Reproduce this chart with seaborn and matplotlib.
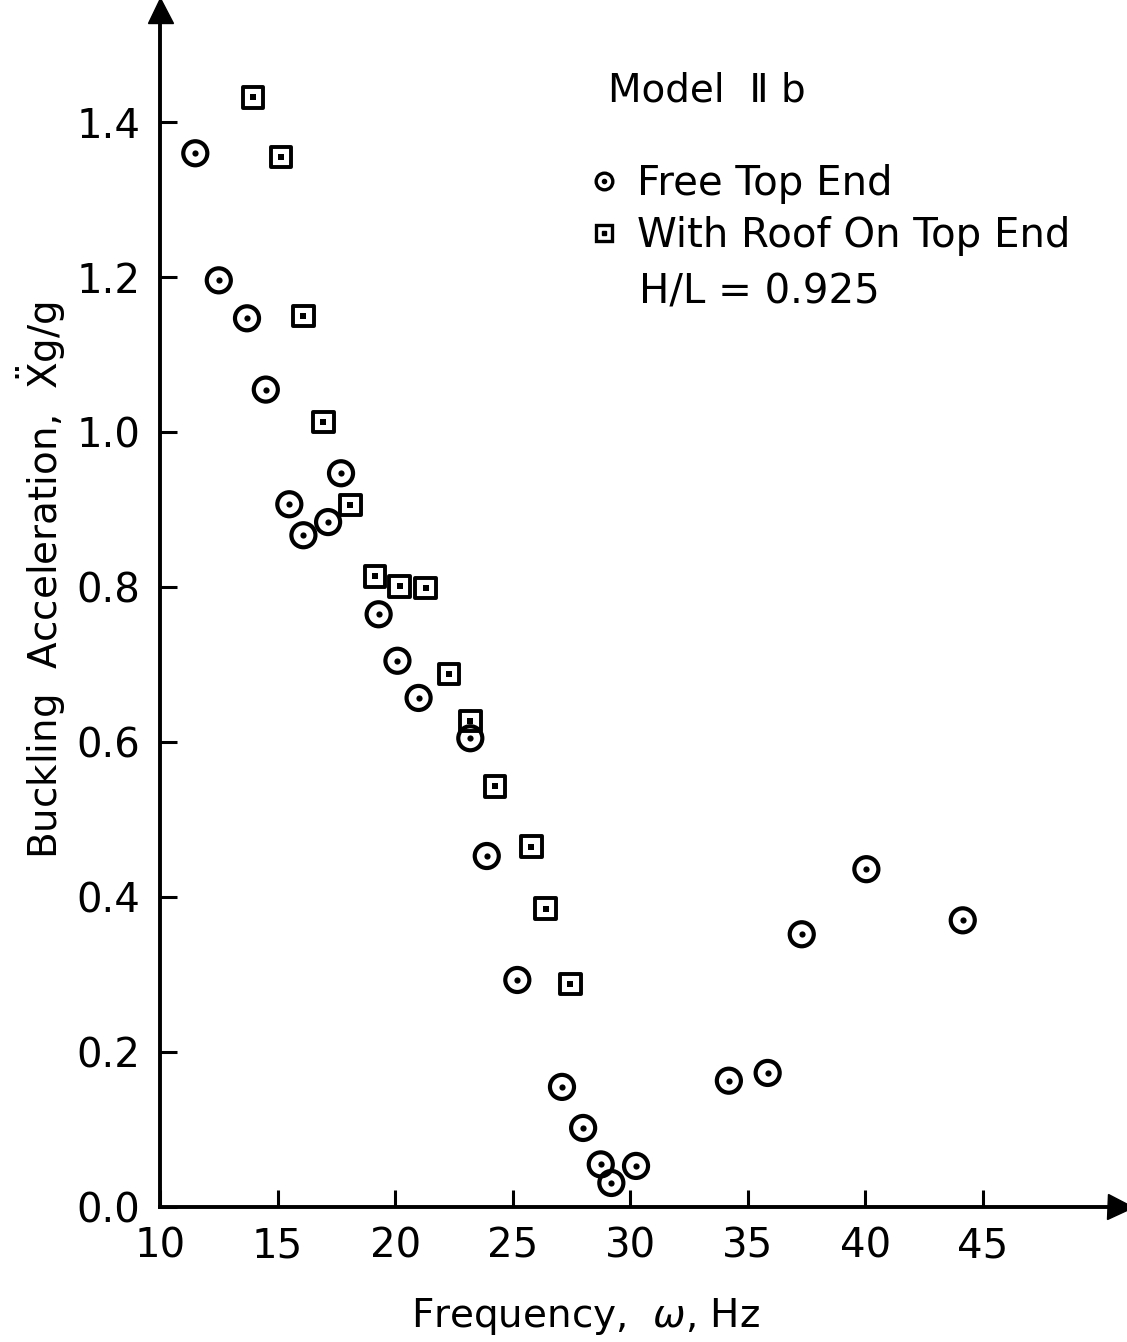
import numpy as np
import pandas as pd
import matplotlib
matplotlib.use('Agg')
import matplotlib.pyplot as plt
import seaborn as sns
from matplotlib.lines import Line2D
from matplotlib.legend_handler import HandlerTuple

free_freq = [11.5, 12.5, 13.7, 14.5, 15.5, 16.1, 17.15, 17.7, 19.3, 20.1, 21.0, 23.2,
             23.9, 25.2, 27.1, 28.0, 28.75, 29.2, 30.25, 34.2, 35.85, 37.3, 40.05, 44.15]
free_acc = [1.36, 1.196, 1.147, 1.055, 0.907, 0.867, 0.884, 0.947, 0.765, 0.705, 0.657, 0.605,
            0.453, 0.293, 0.155, 0.102, 0.055, 0.031, 0.053, 0.163, 0.173, 0.352, 0.436, 0.370]

roof_freq = [13.95, 15.15, 16.1, 16.95, 18.1, 19.15, 20.2, 21.3, 22.3, 23.2, 24.25, 25.8, 26.4, 27.45]
roof_acc = [1.432, 1.355, 1.15, 1.013, 0.906, 0.814, 0.801, 0.799, 0.688, 0.627, 0.543, 0.465, 0.385, 0.288]

x_ticks = [10, 15, 20, 25, 30, 35, 40, 45]
y_ticks = [0.0, 0.2, 0.4, 0.6, 0.8, 1.0, 1.2, 1.4]

sns.set_style('ticks')
plt.rcParams['font.family'] = ['DejaVu Sans']
plt.rcParams['mathtext.fontset'] = 'dejavusans'
plt.rcParams['text.color'] = 'black'
plt.rcParams['axes.labelcolor'] = 'black'

free = pd.DataFrame({'freq': free_freq, 'acc': free_acc})
roof = pd.DataFrame({'freq': roof_freq, 'acc': roof_acc})

fig = plt.figure(figsize=(11.27, 13.42), dpi=100)
ax = fig.add_axes([0.142, 0.1006, 0.852, 0.892])

# circles with centre dot
sns.scatterplot(data=free, x='freq', y='acc', ax=ax, marker='o', s=300,
                facecolor='none', edgecolor='black', linewidth=3.0, zorder=3)
sns.scatterplot(data=free, x='freq', y='acc', ax=ax, marker='o', s=20,
                color='black', linewidth=0, zorder=4)
# squares with centre dot
sns.scatterplot(data=roof, x='freq', y='acc', ax=ax, marker='s', s=220,
                facecolor='none', edgecolor='black', linewidth=2.8, zorder=3)
sns.scatterplot(data=roof, x='freq', y='acc', ax=ax, marker='s', s=16,
                color='black', linewidth=0, zorder=4)

ax.set_xlim(10, 50.85)
ax.set_ylim(0, 1.545)
ax.set_xticks(x_ticks)
ax.set_yticks(y_ticks)
ax.set_xticklabels([str(t) for t in x_ticks])
ax.set_yticklabels(['%.1f' % t for t in y_ticks])
ax.tick_params(direction='in', length=12, width=2.2, labelsize=29, colors='black')
ax.tick_params(axis='x', pad=14)
ax.tick_params(axis='y', pad=14)

sns.despine(ax=ax)
for side in ['left', 'bottom']:
    ax.spines[side].set_linewidth(2.8)
    ax.spines[side].set_color('black')
# arrow heads on the axes
ax.plot(1, 0, marker='>', color='black', markersize=18, transform=ax.transAxes, clip_on=False)
ax.plot(0, 1, marker='^', color='black', markersize=18, transform=ax.transAxes, clip_on=False)

ax.set_xlabel('Frequency,  $\\omega$, Hz', fontsize=28)
ax.xaxis.set_label_coords(0.443, -0.074)
ax.set_ylabel('Buckling  Acceleration,  $\\ddot{\\mathrm{X}}$g/g', fontsize=28)
ax.yaxis.set_label_coords(-0.096, 0.524)

ax.text(0.467, 0.933, 'Model  \u2161 b', transform=ax.transAxes, fontsize=28,
        ha='left', va='center')

h_free = (Line2D([], [], ls='none', marker='o', ms=12, mfc='none', mec='black', mew=2.4),
          Line2D([], [], ls='none', marker='o', ms=3, color='black'))
h_roof = (Line2D([], [], ls='none', marker='s', ms=11, mfc='none', mec='black', mew=2.4),
          Line2D([], [], ls='none', marker='s', ms=3, color='black'))
ax.legend([h_free, h_roof], ['Free Top End', 'With Roof On Top End'],
          handler_map={tuple: HandlerTuple(ndivide=1, pad=0)},
          loc='center left', bbox_to_anchor=(0.448, 0.833), frameon=False,
          fontsize=29, handlelength=0.7, handletextpad=0.45, labelspacing=0.3,
          borderpad=0, borderaxespad=0)

ax.text(0.499, 0.764, 'H/L = 0.925', transform=ax.transAxes, fontsize=29,
        ha='left', va='center')

fig.savefig('out.png', dpi=100)
